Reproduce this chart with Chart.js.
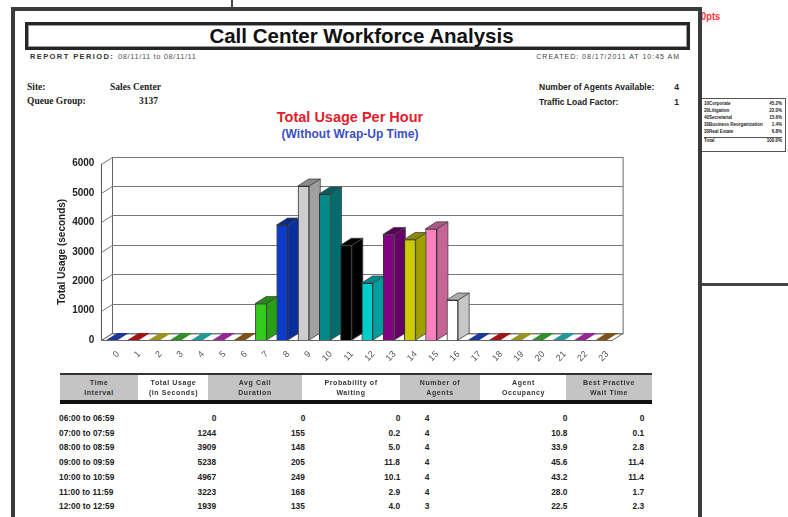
<!DOCTYPE html>
<html>
<head>
<meta charset="utf-8">
<title>Call Center Workforce Analysis</title>
<script src="https://cdn.jsdelivr.net/npm/chart.js@4.4.1/dist/chart.umd.min.js"></script>
<style>
  html, body { margin: 0; padding: 0; }
  body { width: 788px; height: 517px; overflow: hidden; position: relative; background: #fff;
         font-family: "Liberation Sans", Arial, sans-serif; color: #222; }
  .abs { position: absolute; white-space: nowrap; }
  #topLine { left: 231px; top: 0; width: 2px; height: 9px; background: #444; }
  #frame { left: 11px; top: 7px; width: 691px; height: 600px; border: 4px solid #3b3b3b; box-sizing: border-box; }
  #titleBox { left: 25px; top: 22px; width: 665px; height: 28px; border: 3px solid #262626; box-sizing: border-box;
              box-shadow: inset 0 0 0 1px #9a9a9a; text-align: center; font: bold 20.5px/22px "Liberation Sans", Arial; color: #111; padding-left: 8px; }
  .meta { font: bold 7.5px/9px "Liberation Sans", Arial; letter-spacing: 1.4px; color: #333; }
  .metaVal { font: 7.5px/9px "Liberation Sans", Arial; letter-spacing: 0.6px; color: #555; }
  .serif { font: bold 9.5px/10px "Liberation Serif", "Times New Roman", serif; color: #222; }
  .right8 { font: bold 8.5px/10px "Liberation Sans", Arial; color: #222; }
  #chartTitle { left: 0; width: 700px; top: 108px; text-align: center; font: bold 14.5px/18px "Liberation Sans", Arial; color: #e2202c; }
  #chartSub { left: 0; width: 700px; top: 127px; text-align: center; font: bold 12px/15px "Liberation Sans", Arial; color: #3b4fc4; }
  #chartBox { left: 40px; top: 150px; width: 600px; height: 225px; }
  #tblTop { left: 60px; top: 373px; width: 592px; height: 2px; background: #333; }
  #tblLine { left: 60px; top: 400px; width: 592px; height: 4px; background: #111; }
  .th { position: absolute; top: 375px; height: 25px; text-align: center; font: bold 7px/10px "Liberation Sans", Arial;
        letter-spacing: 0.6px; color: #333; padding-top: 3px; box-sizing: border-box; }
  .td { position: absolute; font: bold 9.5px/10px "Liberation Sans", Arial; color: #222; white-space: nowrap; transform: scaleX(0.88); }
  #sideBox { left: 702px; top: 98px; width: 84px; height: 54px; border: 1px solid #555; border-left: none; box-sizing: border-box; }
  .tiny { position: absolute; font: bold 4.5px/5px "Liberation Sans", Arial; color: #222; white-space: nowrap; }
  #sideRule { left: 702px; top: 283px; width: 86px; height: 3px; background: #444; }
  #pts { left: 701px; top: 10px; font: bold 11px/13px "Liberation Sans", Arial; color: #ff3030; transform: scaleX(0.85); transform-origin: left; }
</style>
</head>
<body>
<div class="abs" id="pts">0pts</div>
<div class="abs" id="topLine"></div>
<div class="abs" id="frame"></div>
<div class="abs" id="titleBox">Call Center Workforce Analysis</div>

<div class="abs meta" style="left:30px; top:52px;">REPORT PERIOD:</div>
<div class="abs metaVal" style="left:118px; top:52px;">08/11/11 to 08/11/11</div>
<div class="abs meta" style="right:108px; top:52px; font-weight:normal; color:#444; letter-spacing:1px; font-size:7px;">CREATED: 08/17/2011 AT 10:45 AM</div>

<div class="abs serif" style="left:27px; top:82px;">Site:</div>
<div class="abs serif" style="left:110px; top:82px;">Sales Center</div>
<div class="abs serif" style="left:27px; top:96px;">Queue Group:</div>
<div class="abs serif" style="right:630px; top:96px;">3137</div>

<div class="abs right8" style="left:539px; top:82px;">Number of Agents Available:</div>
<div class="abs right8" style="right:109px; top:82px;">4</div>
<div class="abs right8" style="left:539px; top:97px;">Traffic Load Factor:</div>
<div class="abs right8" style="right:109px; top:97px;">1</div>

<div class="abs" id="chartTitle">Total Usage Per Hour</div>
<div class="abs" id="chartSub">(Without Wrap-Up Time)</div>

<div class="abs" id="chartBox"><canvas id="usageChart"></canvas></div>

<div class="abs" id="tblTop"></div>
<div id="tblHead"></div>
<div class="abs" id="tblLine"></div>
<div id="tblBody"></div>

<div class="abs" id="sideBox"></div>
<div id="sideList"></div>
<div class="abs" id="sideRule"></div>

<script>
// chart data
var hours = ['0','1','2','3','4','5','6','7','8','9','10','11','12','13','14','15','16','17','18','19','20','21','22','23'];
var usageSeconds = [0, 0, 0, 0, 0, 0, 0, 1244, 3909, 5238, 4967, 3223, 1939, 3590, 3420, 3780, 1360, 0, 0, 0, 0, 0, 0, 0];
var yMax = 6000;
var yStep = 1000;

var barColors = ['#1f3fa8','#b01818','#a8a428','#36a02e','#2aa8a8','#a42aa8','#8c5c1c',
                 '#33cc1a','#0c3ccc','#cdcdcd','#008a8a','#000000','#00cccc','#820082','#cccc00','#ff80c0','#ffffff',
                 '#1f3fa8','#b01818','#a8a428','#36a02e','#2aa8a8','#a42aa8','#8c5c1c'];

// table data
var tableHead = [['Time','Interval'],['Total Usage','(in Seconds)'],['Avg Call','Duration'],['Probability of','Waiting'],
                 ['Number of','Agents'],['Agent','Occupancy'],['Best Practive','Wait Time']];
var tableRows = [
  ['06:00 to 06:59','0','0','0','4','0','0'],
  ['07:00 to 07:59','1244','155','0.2','4','10.8','0.1'],
  ['08:00 to 08:59','3909','148','5.0','4','33.9','2.8'],
  ['09:00 to 09:59','5238','205','11.8','4','45.6','11.4'],
  ['10:00 to 10:59','4967','249','10.1','4','43.2','11.4'],
  ['11:00 to 11:59','3223','168','2.9','4','28.0','1.7'],
  ['12:00 to 12:59','1939','135','4.0','3','22.5','2.3']
];
var sideNames = ['10Corporate','20Litigation','40Secretarial','30Business Reorganization','30Real Estate','Total'];
var sidePct = ['45.2%','22.0%','15.6%','1.4%','6.8%','100.0%'];

// table layout
var headLeft = [60, 142, 208, 305, 400, 484, 566];
var headRight = [138, 205, 302, 397, 480, 563, 652];
var cellEdge = [59, 216, 305, 400, 429, 567, 644];

var head = document.getElementById('tblHead');
tableHead.forEach(function (t, i) {
  var d = document.createElement('div');
  d.className = 'th';
  d.style.left = headLeft[i] + 'px';
  d.style.width = (headRight[i] - headLeft[i]) + 'px';
  d.style.background = i % 2 == 0 ? '#c4c4c4' : '#fff';
  d.innerHTML = t[0] + '<br>' + t[1];
  head.append(d);
});

var body = document.getElementById('tblBody');
tableRows.forEach(function (row, r) {
  var top = 413 + r * 14.7;
  row.forEach(function (txt, c) {
    var d = document.createElement('div');
    d.className = 'td';
    d.style.top = top + 'px';
    if (c == 0) {
      d.style.left = cellEdge[c] + 'px';
      d.style.transformOrigin = 'left';
    } else {
      d.style.right = (788 - cellEdge[c]) + 'px';
      d.style.transformOrigin = 'right';
    }
    d.innerHTML = txt;
    body.append(d);
  });
});

var side = document.getElementById('sideList');
sideNames.forEach(function (n, i) {
  var top = i < 5 ? 101 + i * 7 : 138;
  var a = document.createElement('div');
  a.className = 'tiny';
  a.style.left = '704px'; a.style.top = top + 'px';
  a.innerHTML = n;
  var b = document.createElement('div');
  b.className = 'tiny';
  b.style.right = '6px'; b.style.top = top + 'px';
  b.innerHTML = sidePct[i];
  side.append(a, b);
});
var rule = document.createElement('div');
rule.className = 'abs';
rule.style.cssText = 'left:704px;top:137px;width:78px;height:1px;background:#555;';
side.append(rule);

// 3d look
var depthX = 11, depthY = -7;

function shade(hex, f) {
  var n = parseInt(hex.slice(1), 16);
  var r = Math.round(((n >> 16) & 255) * f);
  var g = Math.round(((n >> 8) & 255) * f);
  var b = Math.round((n & 255) * f);
  return 'rgb(' + r + ',' + g + ',' + b + ')';
}

var box3d = {
  id: 'box3d',
  beforeDatasetsDraw: function (chart) {
    var ctx = chart.ctx, a = chart.chartArea, y = chart.scales.y;
    ctx.save();
    ctx.lineWidth = 1;
    // floor
    ctx.beginPath();
    ctx.moveTo(a.left, a.bottom + 0.5);
    ctx.lineTo(a.right, a.bottom + 0.5);
    ctx.lineTo(a.right + depthX, a.bottom + depthY + 0.5);
    ctx.lineTo(a.left + depthX, a.bottom + depthY + 0.5);
    ctx.closePath();
    ctx.strokeStyle = '#666';
    ctx.stroke();
    // back wall
    ctx.strokeRect(Math.round(a.left + depthX) + 0.5, Math.round(a.top + depthY) + 0.5, a.right - a.left, a.bottom - a.top);
    // grid lines
    y.ticks.forEach(function (t) {
      var py = Math.round(y.getPixelForValue(t.value)) + 0.5;
      ctx.beginPath();
      ctx.moveTo(a.left, py);
      ctx.lineTo(a.left + depthX, py + depthY);
      ctx.lineTo(a.right + depthX, py + depthY);
      ctx.strokeStyle = '#777';
      ctx.stroke();
    });
    ctx.beginPath();
    ctx.moveTo(Math.round(a.left) + 0.5, a.top);
    ctx.lineTo(Math.round(a.left) + 0.5, a.bottom);
    ctx.strokeStyle = '#555';
    ctx.stroke();
    ctx.restore();
  },
  afterDatasetsDraw: function (chart) {
    var ctx = chart.ctx;
    var meta = chart.getDatasetMeta(0);
    ctx.save();
    ctx.lineWidth = 0.8;
    ctx.strokeStyle = '#444';
    meta.data.forEach(function (bar, i) {
      var p = bar.getProps(['x', 'y', 'base', 'width'], true);
      var l = p.x - p.width / 2, r = p.x + p.width / 2;
      var c = barColors[i];
      var flat = p.base - p.y < 0.5;
      if (!flat) {
        ctx.beginPath();
        ctx.moveTo(r, p.y);
        ctx.lineTo(r + depthX, p.y + depthY);
        ctx.lineTo(r + depthX, p.base + depthY);
        ctx.lineTo(r, p.base);
        ctx.closePath();
        ctx.fillStyle = shade(c, 0.78);
        ctx.fill();
        ctx.stroke();
      }
      ctx.beginPath();
      ctx.moveTo(l, p.y);
      ctx.lineTo(r, p.y);
      ctx.lineTo(r + depthX, p.y + depthY);
      ctx.lineTo(l + depthX, p.y + depthY);
      ctx.closePath();
      ctx.fillStyle = flat ? shade(c, 0.9) : shade(c, 0.68);
      ctx.fill();
      if (!flat) ctx.stroke();
    });
    meta.data.forEach(function (bar) { bar.draw(ctx); });
    ctx.restore();
  }
};

var ctx = document.getElementById('usageChart').getContext('2d');
var usageChart = new Chart(ctx, {
  type: 'bar',
  data: {
    labels: hours,
    datasets: [{
      label: 'Total Usage',
      data: usageSeconds,
      backgroundColor: barColors,
      borderColor: '#333',
      borderWidth: 1,
      barPercentage: 0.54,
      categoryPercentage: 1
    }]
  },
  options: {
    responsive: true,
    maintainAspectRatio: false,
    animation: false,
    devicePixelRatio: 1,
    layout: { padding: { top: 13.6, right: 28, left: 0, bottom: 0 } },
    plugins: { legend: { display: false }, tooltip: { enabled: false } },
    scales: {
      x: {
        offset: true,
        grid: { display: false, drawTicks: false },
        border: { display: false },
        ticks: { autoSkip: false, minRotation: 45, maxRotation: 45, padding: 9, labelOffset: 6,
                 color: '#555', font: { family: 'Liberation Sans', size: 9 } },
        afterFit: function (s) { s.height = 35; }
      },
      y: {
        min: 0,
        max: yMax,
        grid: { display: false, drawTicks: false },
        border: { display: false },
        ticks: { stepSize: yStep, padding: 7, color: '#222', font: { family: 'Liberation Sans', size: 10, weight: 'bold' },
                 callback: function (v) { return String(v); } },
        title: { display: true, text: 'Total Usage (seconds)', color: '#222', padding: { top: 16, bottom: 0 },
                 font: { family: 'Liberation Sans', size: 10, weight: 'bold' } },
        afterFit: function (s) { s.width = 61.4; }
      }
    }
  },
  plugins: [box3d]
});
</script>
</body>
</html>
